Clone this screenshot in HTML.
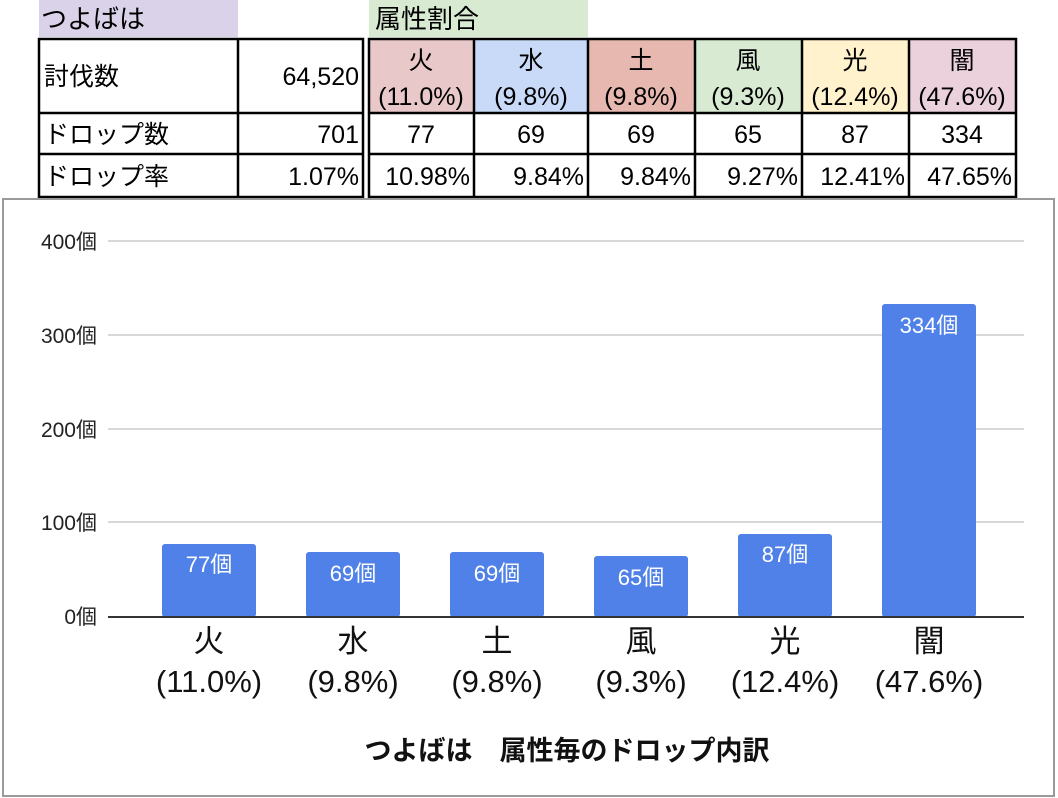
<!DOCTYPE html>
<html><head><meta charset="utf-8"><style>
body{margin:0;width:1058px;height:798px;background:#fff;overflow:hidden}
svg{display:block;font-family:"Liberation Sans","Noto Sans CJK JP",sans-serif}
</style></head><body>
<svg width="1058" height="798" viewBox="0 0 1058 798">
<rect x="39" y="0" width="199" height="37" fill="#d9d2e9"/>
<rect x="369" y="0" width="219" height="37" fill="#d9ead3"/>
<text x="41" y="28" font-size="26" fill="#000">つよばは</text>
<text x="375" y="28" font-size="26" fill="#000">属性割合</text>
<rect x="369" y="39" width="105" height="74" fill="#e8c8c8"/>
<rect x="474" y="39" width="114" height="74" fill="#c9daf8"/>
<rect x="588" y="39" width="107" height="74" fill="#e6b8af"/>
<rect x="695" y="39" width="107" height="74" fill="#d9ead3"/>
<rect x="802" y="39" width="107" height="74" fill="#fff2cc"/>
<rect x="909" y="39" width="107" height="74" fill="#ead1dc"/>
<g stroke="#000" stroke-width="2.5" fill="none">
<rect x="39" y="39" width="324" height="158"/>
<line x1="238" y1="39" x2="238" y2="197"/>
<line x1="39" y1="113" x2="363" y2="113"/>
<line x1="39" y1="154" x2="363" y2="154"/>
<rect x="369" y="39" width="647" height="158"/>
<line x1="474" y1="39" x2="474" y2="197"/>
<line x1="588" y1="39" x2="588" y2="197"/>
<line x1="695" y1="39" x2="695" y2="197"/>
<line x1="802" y1="39" x2="802" y2="197"/>
<line x1="909" y1="39" x2="909" y2="197"/>
<line x1="369" y1="113" x2="1016" y2="113"/>
<line x1="369" y1="154" x2="1016" y2="154"/>
</g>
<g font-size="25" fill="#000">
<text x="44" y="85">討伐数</text>
<text x="359" y="85" text-anchor="end">64,520</text>
<text x="44" y="143">ドロップ数</text>
<text x="359" y="143" text-anchor="end">701</text>
<text x="44" y="185">ドロップ率</text>
<text x="359" y="185" text-anchor="end">1.07%</text>
</g>
<g font-size="25" fill="#000" text-anchor="middle">
<text x="421" y="69">火</text><text x="421" y="105">(11.0%)</text>
<text x="531" y="69">水</text><text x="531" y="105">(9.8%)</text>
<text x="641" y="69">土</text><text x="641" y="105">(9.8%)</text>
<text x="748" y="69">風</text><text x="748" y="105">(9.3%)</text>
<text x="855" y="69">光</text><text x="855" y="105">(12.4%)</text>
<text x="962" y="69">闇</text><text x="962" y="105">(47.6%)</text>
<text x="421" y="143">77</text><text x="531" y="143">69</text><text x="641" y="143">69</text>
<text x="748" y="143">65</text><text x="855" y="143">87</text><text x="962" y="143">334</text>
</g>
<g font-size="25" fill="#000" text-anchor="end">
<text x="470" y="185">10.98%</text><text x="584" y="185">9.84%</text><text x="691" y="185">9.84%</text>
<text x="798" y="185">9.27%</text><text x="905" y="185">12.41%</text><text x="1012" y="185">47.65%</text>
</g>
<rect x="3" y="199" width="1051" height="597" fill="#fff" stroke="#9a9a9a" stroke-width="2"/>
<g stroke="#cccccc" stroke-width="1.5">
<line x1="108" y1="241" x2="1024" y2="241"/>
<line x1="108" y1="335" x2="1024" y2="335"/>
<line x1="108" y1="429" x2="1024" y2="429"/>
<line x1="108" y1="522" x2="1024" y2="522"/>
</g>
<g font-size="21" fill="#222" text-anchor="end">
<text x="97" y="249">400個</text><text x="97" y="343">300個</text><text x="97" y="437">200個</text>
<text x="97" y="530">100個</text><text x="97" y="624">0個</text>
</g>
<g fill="#4f81e8">
<rect x="162" y="544" width="94" height="73" rx="3"/>
<rect x="306" y="552" width="94" height="65" rx="3"/>
<rect x="450" y="552" width="94" height="65" rx="3"/>
<rect x="594" y="556" width="94" height="61" rx="3"/>
<rect x="738" y="534" width="94" height="83" rx="3"/>
<rect x="882" y="304" width="94" height="313" rx="3"/>
</g>
<line x1="108" y1="617" x2="1024" y2="617" stroke="#333" stroke-width="2"/>
<g font-size="22" fill="#fff" text-anchor="middle">
<text x="209" y="572">77個</text><text x="353" y="581">69個</text><text x="497" y="581">69個</text>
<text x="641" y="585">65個</text><text x="785" y="562">87個</text><text x="929" y="333">334個</text>
</g>
<g font-size="31" fill="#111" text-anchor="middle">
<text x="209" y="652">火</text><text x="209" y="692">(11.0%)</text>
<text x="353" y="652">水</text><text x="353" y="692">(9.8%)</text>
<text x="497" y="652">土</text><text x="497" y="692">(9.8%)</text>
<text x="641" y="652">風</text><text x="641" y="692">(9.3%)</text>
<text x="785" y="652">光</text><text x="785" y="692">(12.4%)</text>
<text x="929" y="652">闇</text><text x="929" y="692">(47.6%)</text>
</g>
<text x="567" y="760" font-size="27" font-weight="bold" text-anchor="middle" fill="#111">つよばは　属性毎のドロップ内訳</text>
</svg>
</body></html>
